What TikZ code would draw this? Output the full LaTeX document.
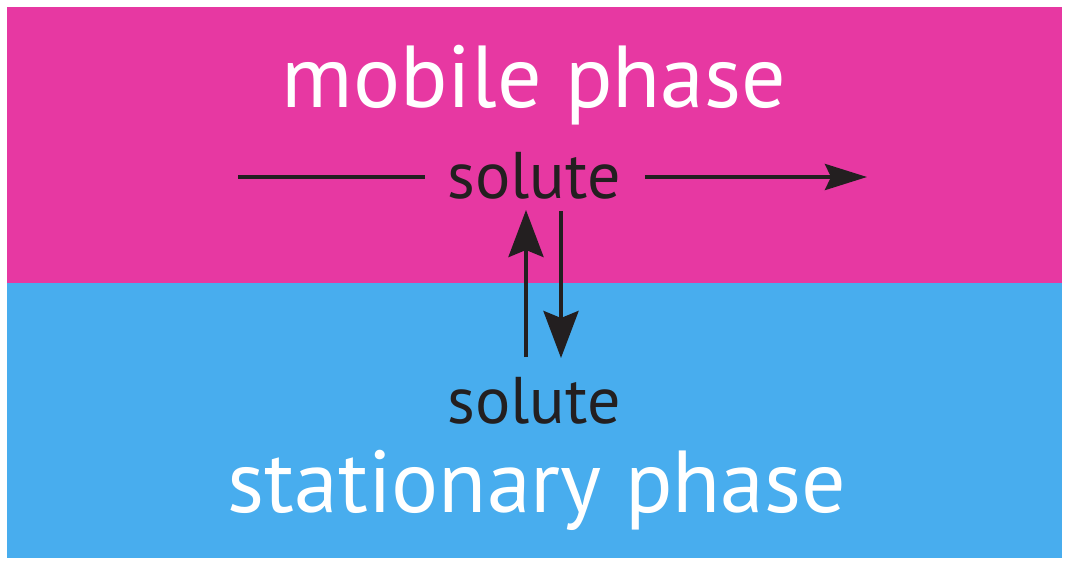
\documentclass[tikz,border=0pt]{standalone}
\usepackage{fontspec}
\setmainfont{PT Sans}
\usepackage{xcolor}
\usetikzlibrary{arrows.meta,positioning}
\definecolor{mobilepink}{HTML}{E738A2}
\definecolor{stationblue}{HTML}{48ADEE}
\definecolor{inkdark}{HTML}{231F20}

\tikzset{
  phasebox/.style={draw=none, inner sep=0pt, minimum width=1055pt},
  phaselabel/.style={text=white, inner sep=0pt, anchor=base, font=\fontsize{88}{90}\selectfont},
  solutelabel/.style={text=inkdark, inner sep=0pt, anchor=base, font=\fontsize{66}{68}\selectfont},
  flow/.style={draw=inkdark, line width=4pt},
  flowtip/.style={-{Stealth[length=42pt,width=26pt,inset=6pt]}},
  swaptip/.style={-{Stealth[length=47pt,width=35pt,inset=7pt]}}
}

\begin{document}
\begin{tikzpicture}[x=1pt,y=-1pt]
  \useasboundingbox (0,0) rectangle (1069,565);
  \node[phasebox, fill=mobilepink, minimum height=276.5pt, anchor=north west] (mobile) at (6.5,6.5) {};
  \node[phasebox, fill=stationblue, minimum height=275pt, anchor=north west] (station) at (6.5,283) {};

  \node[phaselabel] (mobiletext) at (534,107) {mobile phase};
  \node[phaselabel] (stationtext) at (537,512) {stationary phase};
  \node[solutelabel] (solutetop) at (534,198) {solute};
  \node[solutelabel] (solutebot) at (534,423) {solute};

  % flow of the mobile phase
  \coordinate (flowstart) at (238,177);
  \coordinate (flowend) at (867,177);
  \draw[flow] (flowstart) -- ([xshift=-22pt]solutetop.west |- flowstart);
  \draw[flow, flowtip] ([xshift=24pt]solutetop.east |- flowend) -- (flowend);

  % exchange between the phases
  \coordinate (upfoot) at (526,357);
  \coordinate (downfoot) at (561,358);
  \draw[flow, swaptip] (upfoot) -- (upfoot |- 0,210);
  \draw[flow, swaptip] (downfoot |- 0,211) -- (downfoot);
\end{tikzpicture}
\end{document}
